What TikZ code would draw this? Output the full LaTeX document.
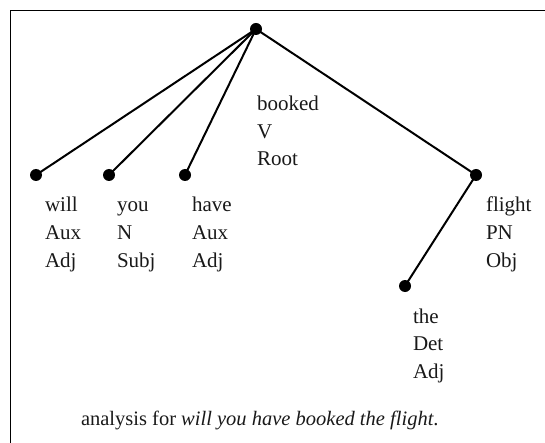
\documentclass[tikz,border=0pt]{standalone}
\usepackage{fontspec}
\setmainfont{Liberation Serif}
\newcommand\wordstack[3]{\vtop{\baselineskip=27.5pt\hbox{#1}\hbox{#2}\hbox{#3}}}
\begin{document}
\begin{tikzpicture}[x=1pt,y=-1pt,
  every node/.style={inner sep=0pt,outer sep=0pt},
  dot/.style={circle,fill=black,minimum size=12pt},
  edge/.style={line width=2pt,black},
  lbl/.style={anchor=base west,font=\fontsize{21}{27.5}\selectfont,text=black!90},
  frame/.style={line width=1.6pt,black}]
  \useasboundingbox (0,0) rectangle (545,443);
  % partial frame: left and top sides
  \draw[frame] (10.5,443) -- (10.5,10.5) -- (545,10.5);

  % tree nodes
  \node[dot] (root)   at (256,29) {};
  \node[dot] (will)   at (36,175) {};
  \node[dot] (you)    at (109,175) {};
  \node[dot] (have)   at (185,175) {};
  \node[dot] (flight) at (476,175) {};
  \node[dot] (the)    at (405,286) {};

  % dependency arcs
  \draw[edge] (root.center) -- (will.center);
  \draw[edge] (root.center) -- (you.center);
  \draw[edge] (root.center) -- (have.center);
  \draw[edge] (root.center) -- (flight.center);
  \draw[edge] (flight.center) -- (the.center);

  % word / tag / relation labels
  \node[lbl] (lroot)   at (257,111) {\wordstack{booked}{V}{Root}};
  \node[lbl] (lwill)   at (45,212)  {\wordstack{will}{Aux}{Adj}};
  \node[lbl] (lyou)    at (117,212) {\wordstack{you}{N}{Subj}};
  \node[lbl] (lhave)   at (192,212) {\wordstack{have}{Aux}{Adj}};
  \node[lbl] (lflight) at (486,212) {\wordstack{flight}{PN}{Obj}};
  \node[lbl] (lthe)    at (413,323) {\wordstack{the}{Det}{Adj}};

  % caption
  \node[lbl,font=\fontsize{20.5}{24}\selectfont] (caption) at (81,425)
    {analysis for \textit{will you have booked the flight}.};
\end{tikzpicture}
\end{document}
